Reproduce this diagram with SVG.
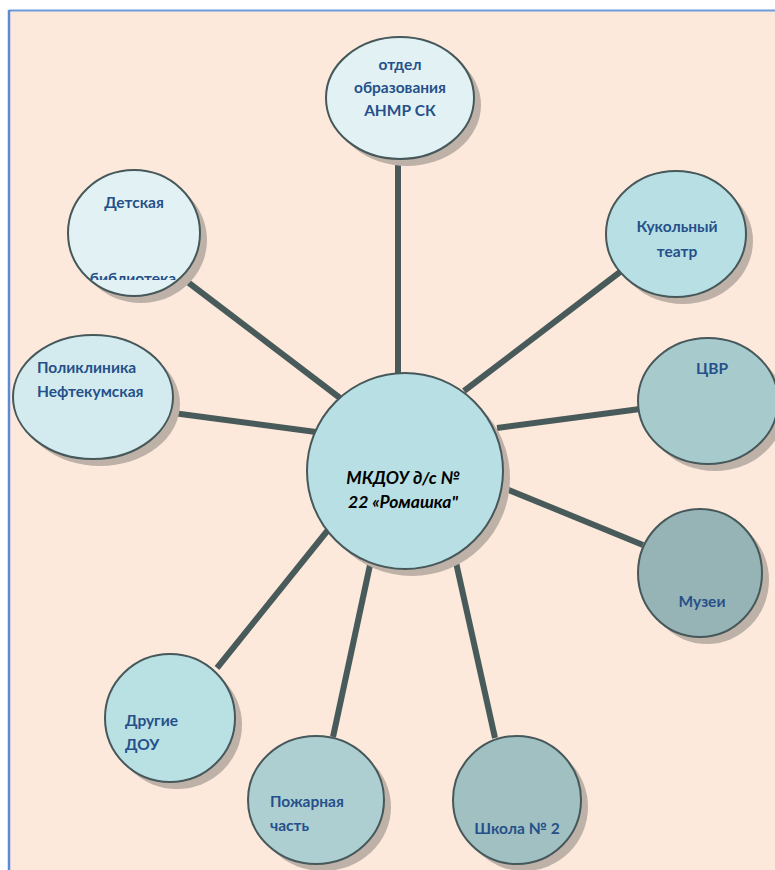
<svg xmlns="http://www.w3.org/2000/svg" width="775" height="870" viewBox="0 0 775 870">
  <defs>
    <style>
      .node { stroke: #46585A; stroke-width: 2; }
      .shadow { fill: #BEB1A7; }
      .lbl { font-family: Lato, "Open Sans", "Liberation Sans", sans-serif; font-weight: bold; font-size: 15.5px; fill: #25508A; }
      .ctr { font-family: Lato, "Open Sans", "Liberation Sans", sans-serif; font-weight: bold; font-style: italic; font-size: 17.5px; fill: #000; }
      .conn line { stroke: #495A5A; stroke-width: 6; stroke-linecap: butt; }
    </style>
    <clipPath id="clipLib">
      <rect x="60" y="180" width="160" height="100"/>
    </clipPath>
  </defs>

  <rect x="0" y="0" width="775" height="870" fill="#FFFFFF"/>
  <rect x="9" y="11" width="766" height="859" fill="#FCE9DB"/>
  <line x1="9" y1="10.5" x2="775" y2="10.5" stroke="#6F9BDC" stroke-width="2"/>
  <line x1="9" y1="10" x2="9" y2="870" stroke="#5B8BD6" stroke-width="2.5"/>

  <g id="connectors" class="conn">
    <line x1="398" y1="159" x2="398" y2="374"/>
    <line x1="185" y1="280" x2="340" y2="398"/>
    <line x1="173" y1="413" x2="316" y2="432"/>
    <line x1="620" y1="272" x2="464" y2="391"/>
    <line x1="640" y1="409" x2="497" y2="428"/>
    <line x1="643" y1="545" x2="504" y2="488"/>
    <line x1="495" y1="738" x2="455" y2="558"/>
    <line x1="333" y1="737" x2="370" y2="565"/>
    <line x1="217" y1="668" x2="328" y2="530"/>
  </g>

  <g id="node-otdel">
    <ellipse class="shadow" cx="407" cy="105" rx="74" ry="61"/>
    <ellipse class="node" cx="400" cy="98" rx="74" ry="61" fill="#E2F2F4"/>
    <text class="lbl" text-anchor="middle"><tspan x="400" y="70">отдел</tspan><tspan x="400" y="93">образования</tspan><tspan x="400" y="116">АНМР СК</tspan></text>
  </g>

  <g id="node-detskaya">
    <ellipse class="shadow" cx="141" cy="240" rx="66" ry="63"/>
    <ellipse class="node" cx="134" cy="233" rx="66" ry="63" fill="#E2F2F4"/>
    <text class="lbl" x="134" y="208" text-anchor="middle">Детская</text>
    <text class="lbl" x="133" y="284" text-anchor="middle" clip-path="url(#clipLib)">библиотека</text>
  </g>

  <g id="node-poliklinika">
    <ellipse class="shadow" cx="100" cy="404" rx="80" ry="62"/>
    <ellipse class="node" cx="93" cy="397" rx="80" ry="62" fill="#D3EBEE"/>
    <text class="lbl"><tspan x="37" y="373">Поликлиника</tspan><tspan x="37" y="397">Нефтекумская</tspan></text>
  </g>

  <g id="node-kukolny">
    <ellipse class="shadow" cx="683" cy="241" rx="70" ry="63"/>
    <ellipse class="node" cx="676" cy="234" rx="70" ry="63" fill="#B8DFE3"/>
    <text class="lbl" text-anchor="middle"><tspan x="677" y="232">Кукольный</tspan><tspan x="677" y="257">театр</tspan></text>
  </g>

  <g id="node-cvr">
    <ellipse class="shadow" cx="715" cy="408" rx="70" ry="63"/>
    <ellipse class="node" cx="708" cy="401" rx="70" ry="63" fill="#A7CACD"/>
    <text class="lbl" x="712" y="374" text-anchor="middle">ЦВР</text>
  </g>

  <g id="node-muzei">
    <ellipse class="shadow" cx="707" cy="580" rx="62" ry="64"/>
    <ellipse class="node" cx="700" cy="573" rx="62" ry="64" fill="#96B3B5"/>
    <text class="lbl" x="702" y="607" text-anchor="middle">Музеи</text>
  </g>

  <g id="node-shkola">
    <ellipse class="shadow" cx="524" cy="807" rx="64" ry="64"/>
    <ellipse class="node" cx="517" cy="800" rx="64" ry="64" fill="#A1C0C2"/>
    <text class="lbl" x="517" y="834" text-anchor="middle">Школа № 2</text>
  </g>

  <g id="node-pozharnaya">
    <ellipse class="shadow" cx="323" cy="807" rx="68" ry="64"/>
    <ellipse class="node" cx="316" cy="800" rx="68" ry="64" fill="#ADCFD2"/>
    <text class="lbl"><tspan x="270" y="807">Пожарная</tspan><tspan x="270" y="831">часть</tspan></text>
  </g>

  <g id="node-drugie">
    <ellipse class="shadow" cx="177" cy="725" rx="65" ry="64"/>
    <ellipse class="node" cx="170" cy="718" rx="65" ry="64" fill="#B9E0E3"/>
    <text class="lbl"><tspan x="125" y="726">Другие</tspan><tspan x="125" y="750">ДОУ</tspan></text>
  </g>

  <g id="node-center">
    <ellipse class="shadow" cx="412" cy="478" rx="98" ry="98"/>
    <ellipse class="node" cx="405" cy="471" rx="98" ry="98" fill="#B8DFE3"/>
    <text class="ctr" text-anchor="middle"><tspan x="403" y="484">МКДОУ д/с №</tspan><tspan x="403" y="508">22 «Ромашка"</tspan></text>
  </g>
</svg>
